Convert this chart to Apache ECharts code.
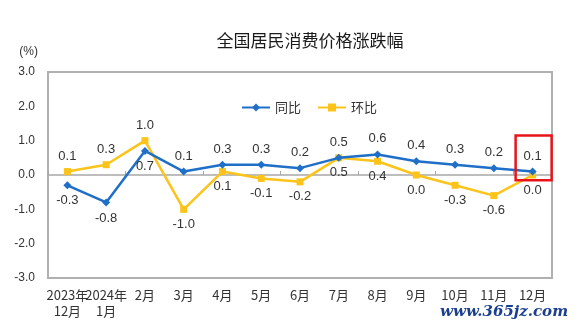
<!DOCTYPE html>
<html><head><meta charset="utf-8">
<script src="https://cdn.jsdelivr.net/npm/echarts@6/dist/echarts.min.js"></script>
<style>html,body{margin:0;padding:0;background:#fff}#c{width:576px;height:330px}</style>
</head><body><div id="c"></div>
<script>
const categories = ['2023年\n12月','2024年\n1月','2月','3月','4月','5月','6月','7月','8月','9月','10月','11月','12月'];
const yoy = [-0.3,-0.8,0.7,0.1,0.3,0.3,0.2,0.5,0.6,0.4,0.3,0.2,0.1];
const mom = [0.1,0.3,1.0,-1.0,0.1,-0.1,-0.2,0.5,0.4,0.0,-0.3,-0.6,0.0];
const yoyBelow = [true,true,true,false,false,false,false,false,false,false,false,false,false];
const momBelow = [false,false,false,true,true,true,true,true,true,true,true,true,true];
const yTicks = [-3,-2,-1,0,1,2,3];

const FONT = 'Liberation Sans, Arial, Noto Sans CJK SC, sans-serif';
const BLUE = '#1f6fc8', YELLOW = '#fcc41a';
const chart = echarts.init(document.getElementById('c'));
function mk(vals, below){
  return vals.map((v,i)=>({value:v,label:{position: below[i]?'bottom':'top'}}));
}
chart.setOption({
  animation:false,
  textStyle:{fontFamily:FONT},
  title:{text:'全国居民消费价格涨跌幅',left:305,textAlign:'center',top:27,
    textStyle:{fontSize:17,fontWeight:'normal',color:'#1a1a1a',fontFamily:'Noto Sans CJK SC'}},
  legend:{left:236,top:96,itemWidth:28,itemHeight:10,itemGap:16,
    textStyle:{fontSize:13,color:'#333',fontFamily:'Noto Sans CJK SC'},
    data:['同比','环比']},
  grid:{left:48,right:24,top:72,bottom:52,show:true,borderColor:'#b0b0b0',borderWidth:2,containLabel:false},
  xAxis:[
    {type:'category',data:categories,boundaryGap:true,
      axisLine:{onZero:true,lineStyle:{color:'#a8a8a8',width:1.5}},
      axisTick:{show:true,inside:true,length:4,lineStyle:{color:'#a8a8a8'}},
      axisLabel:{show:false}},
    {type:'category',data:categories,boundaryGap:true,position:'bottom',
      axisLine:{show:false,onZero:false},axisTick:{show:false},
      axisLabel:{interval:0,margin:9,fontSize:13,color:'#333',lineHeight:16,fontFamily:'Noto Sans CJK SC'}}
  ],
  yAxis:{type:'value',min:-3,max:3,interval:1,
    name:'(%)',nameLocation:'end',nameGap:14,
    nameTextStyle:{fontSize:12,color:'#333',align:'right',padding:[0,10,0,0]},
    axisLine:{show:false},axisTick:{show:false},splitLine:{show:false},
    axisLabel:{margin:13,fontSize:12,color:'#333',formatter:v=>v.toFixed(1)}},
  series:[
    {name:'同比',type:'line',xAxisIndex:0,data:mk(yoy,yoyBelow),
      symbol:'diamond',symbolSize:8,lineStyle:{color:BLUE,width:2.5},itemStyle:{color:BLUE},
      label:{show:true,fontSize:13,color:'#333',distance:5,formatter:p=>p.value.toFixed(1)},z:3},
    {name:'环比',type:'line',xAxisIndex:0,data:mk(mom,momBelow),
      symbol:'rect',symbolSize:7,lineStyle:{color:YELLOW,width:2.5},itemStyle:{color:YELLOW},
      label:{show:true,fontSize:13,color:'#333',distance:5,formatter:p=>p.value.toFixed(1)},z:2}
  ]
});
const last = categories.length-1;
const px = chart.convertToPixel({xAxisIndex:0}, last);
const yTop = chart.convertToPixel({yAxisIndex:0}, 1.15);
const yBot = chart.convertToPixel({yAxisIndex:0}, -0.15);
chart.setOption({graphic:[
  {type:'rect',shape:{x:px-17,y:yTop,width:36,height:yBot-yTop},
    style:{fill:'none',stroke:'#e8141a',lineWidth:2.5},z:100},
  {type:'text',right:8,top:305,style:{text:'www.365jz.com',fill:'#1b3f8f',
    font:'bold italic 15px DejaVu Serif, serif'},z:100}
]});
</script></body></html>
